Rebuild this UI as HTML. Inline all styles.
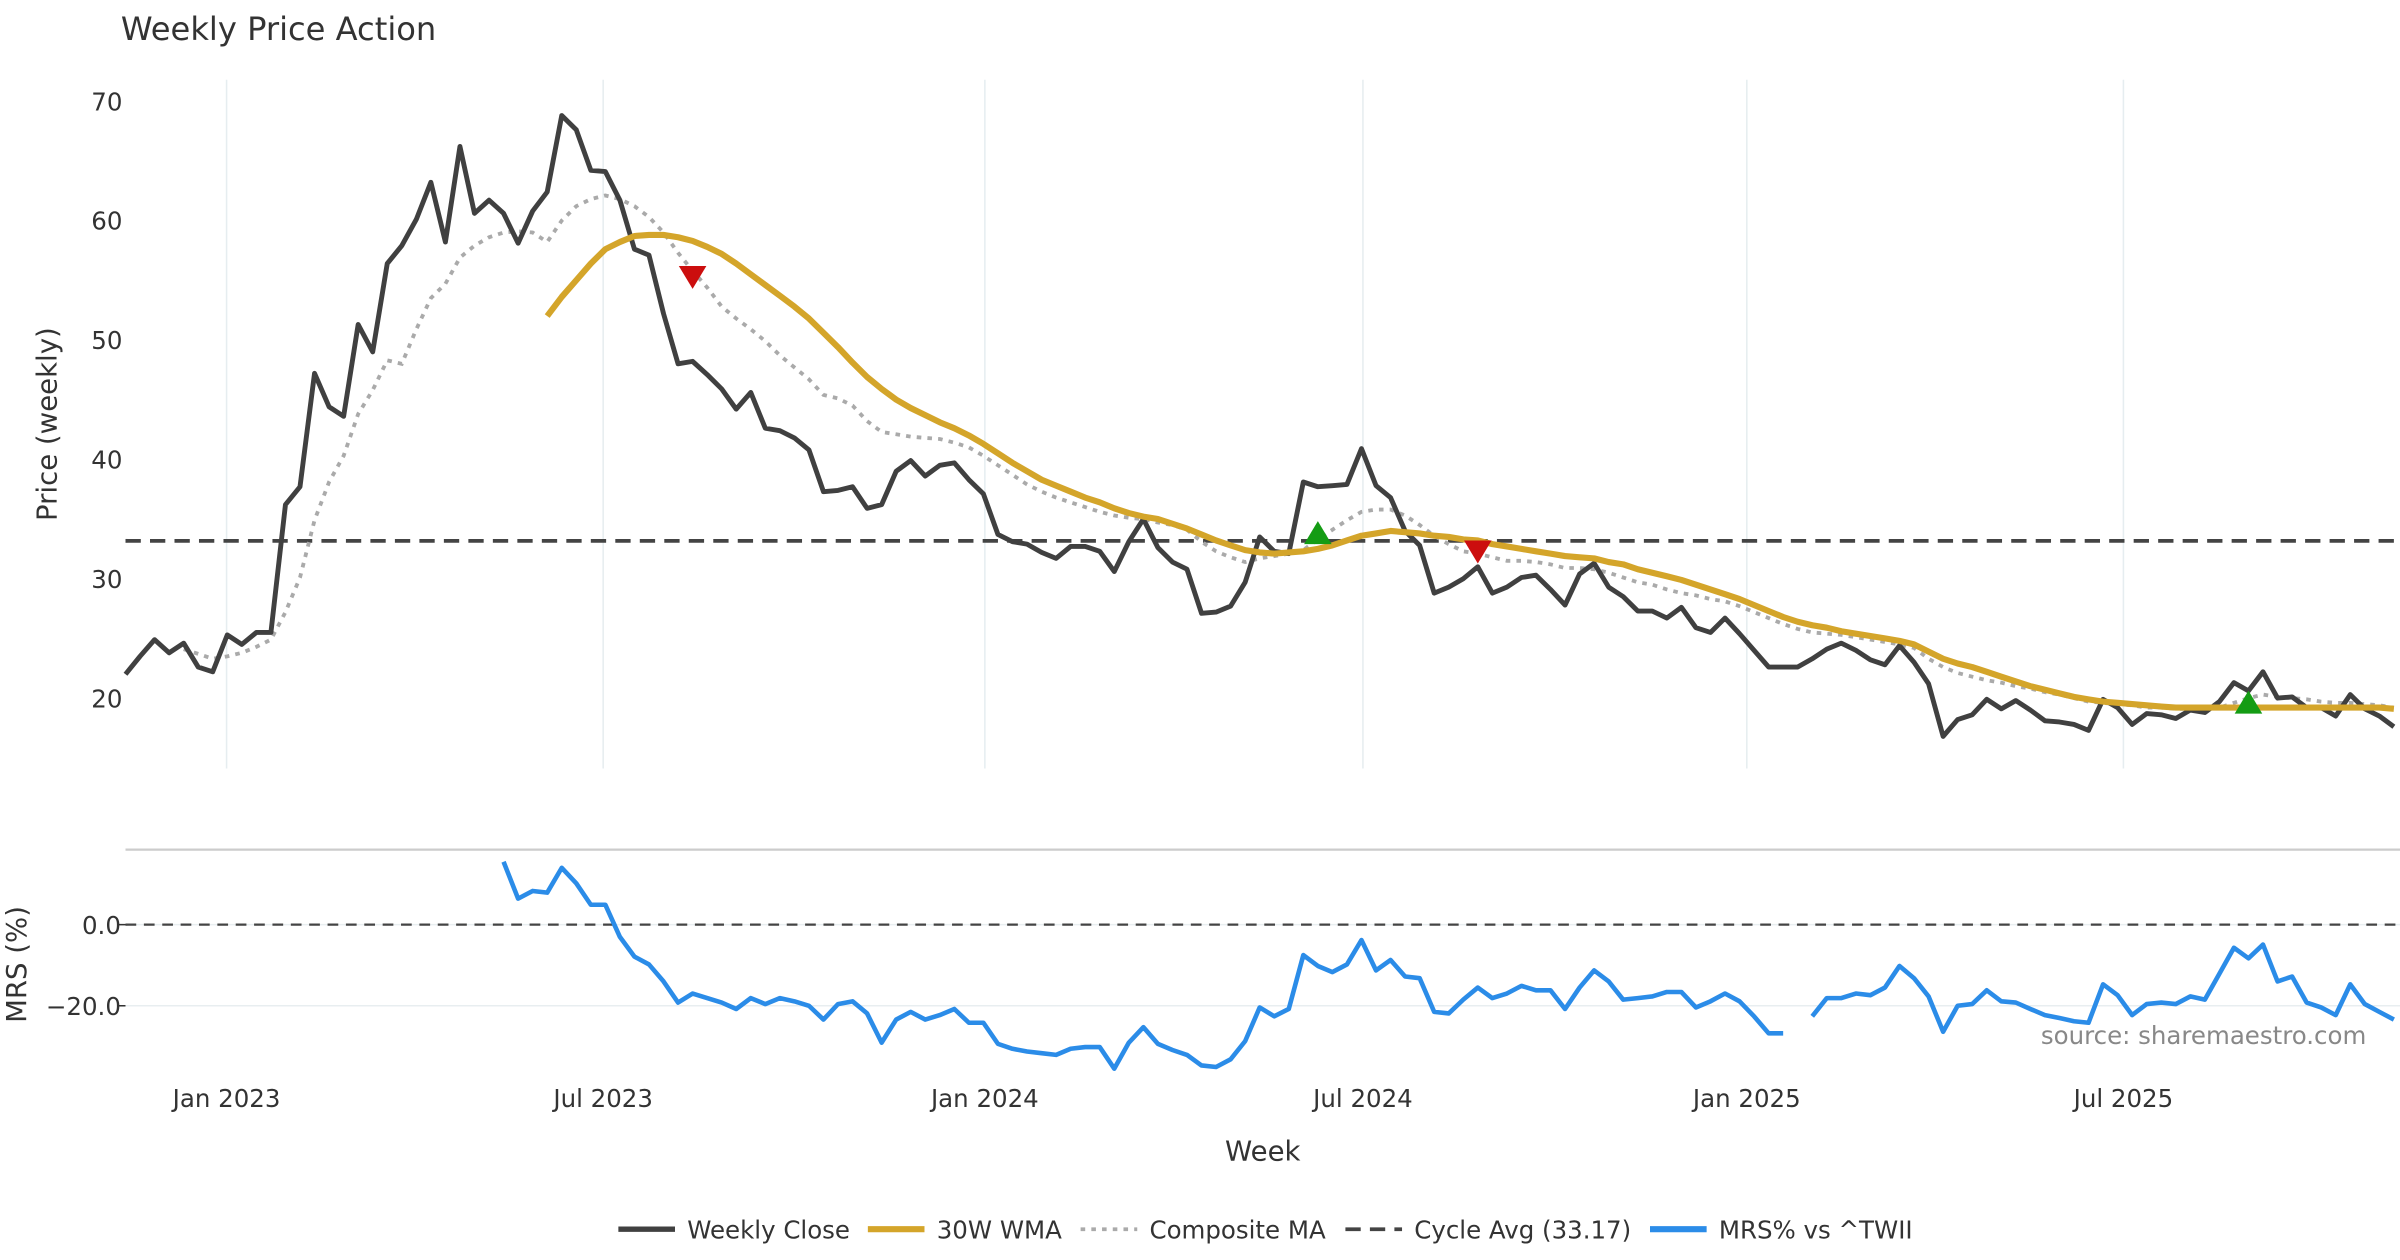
<!DOCTYPE html>
<html><head><meta charset="utf-8"><style>
html,body{margin:0;padding:0;background:#fff;}
svg{display:block;font-family:"DejaVu Sans","Liberation Sans",sans-serif;}
</style></head><body>
<svg id="chart" width="2400" height="1260" viewBox="0 0 1568 823" xmlns="http://www.w3.org/2000/svg">
<rect width="1568" height="823" fill="#fff"/>
<text x="79" y="26" font-size="21" fill="#333">Weekly Price Action</text>
<g id="price"></g>
<g id="mrs"></g>
<text transform="translate(37,277) rotate(-90)" text-anchor="middle" font-size="18" fill="#333">Price (weekly)</text>
<text transform="translate(17,630) rotate(-90)" text-anchor="middle" font-size="18" fill="#333">MRS (%)</text>
<text x="825" y="758" text-anchor="middle" font-size="18" fill="#333">Week</text>
<text x="1546" y="682" text-anchor="end" font-size="16" fill="#888">source: sharemaestro.com</text>
<g id="legend"></g>
</svg>
<script>
const closeVals=[22,23.5,24.9,23.8,24.6,22.6,22.2,25.3,24.5,25.5,25.5,
36.2,37.7,47.2,44.4,43.6,51.3,49,56.4,57.9,60.1,63.2,
58.2,66.2,60.6,61.7,60.6,58.1,60.8,62.4,68.8,67.6,
64.2,64.1,61.7,57.6,57.1,52.2,48,48.2,47.1,45.9,
44.2,45.6,42.6,42.4,41.8,40.8,37.3,37.4,37.7,35.9,
36.2,39,39.9,38.6,39.5,39.7,38.3,37.1,33.7,33.1,
32.9,32.2,31.7,32.7,32.7,32.3,30.6,33.1,35,32.6,
31.4,30.8,27.1,27.2,27.7,29.7,33.5,32.3,32.1,38.1,
37.7,37.8,37.9,40.9,37.8,36.8,34,32.8,28.8,29.3,
30,31,28.8,29.3,30.1,30.3,29.1,27.8,30.4,31.3,
29.3,28.5,27.3,27.3,26.7,27.6,25.9,25.5,26.7,25.4,
24,22.6,22.6,22.6,23.3,24.1,24.6,24,23.2,22.8,
24.4,23,21.2,16.8,18.2,18.6,19.9,19.1,19.8,19,
18.1,18,17.8,17.3,19.9,19.2,17.8,18.7,18.6,18.3,
19,18.8,19.7,21.3,20.6,22.2,20,20.1,19.2,19.2,
18.5,20.3,19.1,18.5,17.6];
const wmaStart=29;
const wmaVals=[52,53.6,55,56.4,57.6,58.2,58.7,58.8,58.8,58.6,58.3,57.8,57.2,56.4,55.5,54.6,53.7,52.8,51.8,50.6,49.4,48.1,46.9,45.9,45,44.3,43.7,43.1,42.6,42,41.3,40.5,39.7,39,38.3,37.8,37.3,36.8,36.4,35.9,35.5,35.2,35,34.6,34.2,33.7,33.2,32.8,32.4,32.2,32.1,32.2,32.3,32.5,32.8,33.2,33.6,33.8,34,33.9,33.8,33.6,33.5,33.3,33.2,32.9,32.7,32.5,32.3,32.1,31.9,31.8,31.7,31.4,31.2,30.8,30.5,30.2,29.9,29.5,29.1,28.7,28.3,27.8,27.3,26.8,26.4,26.1,25.9,25.6,25.4,25.2,25,24.8,24.5,23.9,23.3,22.9,22.6,22.2,21.8,21.4,21,20.7,20.4,20.1,19.9,19.7,19.6,19.5,19.4,19.3,19.2,19.2,19.2,19.2,19.2,19.2,19.2,19.2,19.2,19.2,19.2,19.2,19.2,19.2,19.2,19.1];
const compStart=4;
const compVals=[24.1,23.7,23.3,23.5,23.8,24.3,24.9,27.2,30.1,34.9,38.1,40.3,43.8,45.8,48.3,48,50.9,53.5,54.7,56.9,57.9,58.6,59,59.1,59,58.2,60,61.2,61.8,62.1,61.8,61.2,60.3,59,57.3,55.8,54.4,52.8,51.8,50.9,49.9,48.7,47.7,46.7,45.4,45.1,44.5,43.2,42.3,42.1,41.9,41.8,41.7,41.4,41,40.3,39.5,38.7,37.9,37.3,36.8,36.4,36,35.6,35.3,35.1,35,34.7,34.5,34.1,33.1,32.3,31.8,31.4,31.7,31.9,32.1,32.4,33.3,34.1,34.9,35.6,35.8,35.8,35.3,34.5,33.6,32.9,32.3,32.1,31.8,31.5,31.5,31.4,31.2,30.9,30.9,30.8,30.5,30.1,29.7,29.5,29.1,28.8,28.6,28.3,28.1,27.7,27.2,26.7,26.2,25.8,25.5,25.4,25.3,25.1,24.9,24.7,24.5,24.2,23.3,22.6,22.1,21.8,21.5,21.3,21,20.8,20.5,20.3,20,19.7,19.6,19.5,19.4,19.2,19.2,19.1,19.1,19.1,19.2,19.6,20,20.3,20.1,20,19.9,19.7,19.6,19.6,19.5,19.4,19.2];
const mrsStart=26;
const mrsVals=[15.5,6.4,8.3,7.9,14,10.2,4.9,4.9,-3,-7.9,-9.8,-14,-19.2,-17,-18.1,-19.2,-20.8,-18.1,-19.6,-18.1,-18.9,-20,-23.4,-19.6,-18.9,-21.9,-29.1,-23.4,-21.5,-23.4,-22.3,-20.8,-24.2,-24.2,-29.4,-30.6,-31.3,-31.7,-32.1,-30.6,-30.2,-30.2,-35.5,-29.1,-25.3,-29.4,-30.9,-32.1,-34.7,-35.1,-33.2,-28.7,-20.4,-22.6,-20.8,-7.5,-10.2,-11.7,-9.8,-3.8,-11.3,-8.7,-12.8,-13.2,-21.5,-21.9,-18.5,-15.5,-18.1,-17,-15.1,-16.2,-16.2,-20.8,-15.5,-11.3,-14,-18.5,-18.1,-17.7,-16.6,-16.6,-20.4,-18.9,-17,-18.9,-22.6,-26.8,-26.8,null,-22.6,-18.1,-18.1,-17,-17.4,-15.5,-10.2,-13.2,-17.7,-26.4,-20,-19.6,-16.2,-18.9,-19.2,-20.8,-22.3,-23,-23.8,-24.2,-14.7,-17.4,-22.3,-19.6,-19.2,-19.6,-17.7,-18.5,-12.1,-5.7,-8.3,-4.9,-14,-12.8,-19.2,-20.4,-22.3,-14.7,-19.6,-21.5,-23.4];
const cycleAvg=33.17;
const sellIdx=[39,93];
const sellVals=[55.3,32.3];
const buyIdx=[82,146];
const buyVals=[33.8,19.6];
const xTickIdx=[6.95,32.85,59.1,85.1,111.5,137.4];
const xTickLabels=["Jan 2023","Jul 2023","Jan 2024","Jul 2024","Jan 2025","Jul 2025"];
const yTicks=[20,30,40,50,60,70];
const mrsTicks=[0,-20];
const mrsTickLabels=["0.0","\u221220.0"];

const NS="http://www.w3.org/2000/svg";
const X0=82,X1=1568,STEP=9.5;
const x=i=>X0+i*STEP;
const yP=v=>66+(70-v)*7.8;
const yM=v=>604-v*2.65;
function mk(tag,attrs,parent){const e=document.createElementNS(NS,tag);for(const k in attrs)e.setAttribute(k,attrs[k]);parent.appendChild(e);return e;}
const P=document.getElementById('price'),M=document.getElementById('mrs'),L=document.getElementById('legend');

xTickIdx.forEach((t,k)=>{
 const g=mk('line',{x1:x(t),x2:x(t),y1:52,y2:502,stroke:'#e6edf0','stroke-width':1},P);
 
 
 const tx=mk('text',{x:x(t),y:723,'text-anchor':'middle','font-size':16,fill:'#333'},M);
 tx.textContent=xTickLabels[k];
 
 
});
yTicks.forEach(v=>{
 const t=mk('text',{x:80,y:yP(v)+6,'text-anchor':'end','font-size':16,fill:'#333'},P);
 t.textContent=v;
 
 
});
function path(vals,start,yf){let d='',pen=false;vals.forEach((v,k)=>{if(v===null){pen=false;return;}d+=(pen?'L':'M')+x(start+k).toFixed(1)+','+yf(v).toFixed(1);pen=true;});return d;}
let e;
e=mk('line',{x1:X0,x2:X1,y1:yP(cycleAvg),y2:yP(cycleAvg),stroke:'#444','stroke-width':2.5,'stroke-dasharray':'10,6'},P);


e=mk('path',{d:path(compVals,compStart,yP),fill:'none',stroke:'#aaa','stroke-width':2.5,'stroke-dasharray':'3,4'},P);


e=mk('path',{d:path(closeVals,0,yP),fill:'none',stroke:'#404040','stroke-width':3.2,'stroke-linejoin':'round'},P);


e=mk('path',{d:path(wmaVals,wmaStart,yP),fill:'none',stroke:'#d4a52a','stroke-width':4,'stroke-linejoin':'round'},P);


sellIdx.forEach((i,k)=>{const cx=x(i),cy=yP(sellVals[k]);
 const t=mk('polygon',{points:`${cx-9},${cy-7} ${cx+9},${cy-7} ${cx},${cy+8}`,fill:'#cc0e0e'},P);
 
 });
buyIdx.forEach((i,k)=>{const cx=x(i),cy=yP(buyVals[k]);
 const t=mk('polygon',{points:`${cx-9},${cy+7} ${cx+9},${cy+7} ${cx},${cy-8}`,fill:'#149c14'},P);
 
 });

e=mk('line',{x1:X0,x2:X1,y1:555,y2:555,stroke:'#ccc','stroke-width':1.5},M);


mrsTicks.forEach((v,k)=>{
 const g=mk('line',{x1:X0,x2:X1,y1:yM(v),y2:yM(v),stroke:'#e8eef0','stroke-width':1},M);
 
 
 const tk=mk('line',{x1:X0-5,x2:X0,y1:yM(v),y2:yM(v),stroke:'#333','stroke-width':1},M);
 
 
 const t=mk('text',{x:X0-3,y:yM(v)+6,'text-anchor':'end','font-size':16,fill:'#333'},M);
 t.textContent=mrsTickLabels[k];
 
 
});
e=mk('line',{x1:X0,x2:X1,y1:yM(0),y2:yM(0),stroke:'#444','stroke-width':1.5,'stroke-dasharray':'7,5'},M);


e=mk('path',{d:path(mrsVals,mrsStart,yM),fill:'none',stroke:'#2b8ce8','stroke-width':3,'stroke-linejoin':'round'},M);



const legItems=[
 {x:404,label:'Weekly Close',stroke:'#404040',w:3.5,dash:''},
 {x:567,label:'30W WMA',stroke:'#d4a52a',w:4,dash:''},
 {x:706,label:'Composite MA',stroke:'#aaa',w:2.5,dash:'3,4'},
 {x:879,label:'Cycle Avg (33.17)',stroke:'#444',w:2.5,dash:'10,6'},
 {x:1078,label:'MRS% vs ^TWII',stroke:'#2b8ce8',w:4,dash:''}];
legItems.forEach(it=>{
 const g=mk('g',{},L);
 
 
 mk('line',{x1:it.x,x2:it.x+37,y1:803,y2:803,stroke:it.stroke,'stroke-width':it.w,'stroke-dasharray':it.dash},g);
 const t=mk('text',{x:it.x+45,y:809,'font-size':16,fill:'#333'},g);
 t.textContent=it.label;
});
</script>
</body></html>
